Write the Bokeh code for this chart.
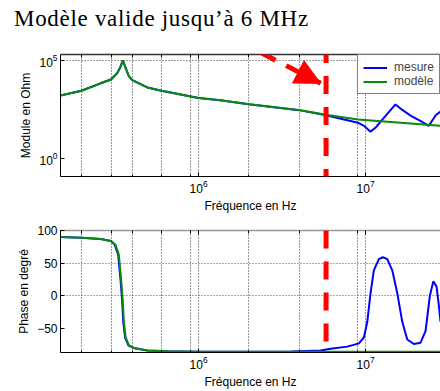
from bokeh.plotting import figure
from bokeh.models import (FixedTicker, Legend, LegendItem, Arrow, LogAxis,
                          NormalHead, Range1d, Div)
from bokeh.layouts import column
from bokeh.embed import file_html
from bokeh.resources import INLINE

# ---------------- data ----------------
# magnitude, model (Ohm)
f_mod_model = [1.49e5, 1.99e5, 2.59e5, 2.99e5, 3.26e5, 3.41e5, 3.52e5, 3.66e5, 3.83e5,
               4.01e5, 4.93e5, 6.0e5, 1.0e6, 1.35e6, 2.0e6, 4.0e6, 5.8e6, 9.0e6, 2.81e7]
z_model = [1590, 2790, 6670, 10500, 22300, 47000, 100000, 39200, 15200,
           9660, 4100, 2790, 1185, 903, 575, 292, 166, 94, 45]
# magnitude, measurement (Ohm)
f_mod_mes = [1.49e5, 1.99e5, 2.59e5, 2.99e5, 3.26e5, 3.41e5, 3.52e5, 3.66e5, 3.83e5,
             4.01e5, 4.93e5, 6.0e5, 1.0e6, 1.35e6, 2.0e6, 4.0e6, 5.8e6, 9.0e6, 9.77e6,
             1.07e7, 1.15e7, 1.26e7, 1.51e7, 1.66e7, 1.86e7, 2.14e7, 2.39e7, 2.63e7, 2.81e7]
z_mes = [1590, 2790, 6670, 10500, 22300, 47000, 100000, 39200, 15200,
         9660, 4100, 2790, 1185, 903, 575, 285, 158, 65, 45,
         22.8, 37, 94, 556, 292, 149, 79, 45, 155, 244]
# phase, model (degrees)
f_ph_model = [1.49e5, 1.99e5, 2.59e5, 2.99e5, 3.18e5, 3.33e5, 3.44e5, 3.51e5, 3.57e5,
              3.66e5, 3.83e5, 4.10e5, 4.93e5, 6.5e5, 1.0e6, 2.81e7]
ph_model = [90, 89, 87, 84, 78, 63, 24, -5, -40, -64, -76, -80, -84, -85, -86, -86]
# phase, measurement (degrees)
f_ph_mes = [1.49e5, 1.99e5, 2.59e5, 2.99e5, 3.15e5, 3.30e5, 3.41e5, 3.48e5, 3.54e5,
            3.63e5, 3.80e5, 4.08e5, 4.93e5, 6.5e5, 1.0e6, 3.6e6, 5.38e6, 6.17e6, 7.77e6,
            9.12e6, 9.77e6, 1.024e7, 1.071e7, 1.121e7, 1.201e7, 1.269e7, 1.349e7, 1.445e7,
            1.548e7, 1.659e7, 1.777e7, 1.946e7, 2.135e7, 2.288e7, 2.427e7, 2.544e7, 2.662e7,
            2.747e7, 2.812e7]
ph_mes = [90, 89, 87, 84, 78, 63, 24, -5, -40, -64, -76, -80, -84, -85, -86, -85.5, -84,
          -81.4, -78, -73, -64, -40, 4, 39, 56, 59, 56, 39, 4, -40, -67, -74, -72, -54,
          0, 22, 14, -15, -40]

f_limit = 5.8e6          # model valid up to ~6 MHz
arrow_from = (1.643e6, 1.197e6)   # annotation arrow (frequency, ohm)
arrow_to = (5.38e6, 6.67e3)
x_major = [1e6, 1e7]
x_minor = [2e5, 3e5, 4e5, 6e5, 9e5, 2e6, 4e6, 9e6]
z_ticks = [1, 1e5]
ph_ticks = [-50, 0, 50, 100]
legend_labels = ["mesure", "modèle"]
title_text = "Modèle valide jusqu’à 6 MHz"

BLUE = "#0000ff"
GREEN = "#0a8a0a"
RED = "#ff0000"
FONT = "Liberation Sans"

x_rng = (1.49e5, 2.81e7)


def style(p, yticks, top_color):
    p.xaxis.ticker = FixedTicker(ticks=x_major, minor_ticks=x_minor)
    p.yaxis.ticker = FixedTicker(ticks=yticks)
    for ax in p.xaxis + p.yaxis:
        ax.major_tick_in = 4
        ax.major_tick_out = 0
        ax.minor_tick_in = 2
        ax.minor_tick_out = 0
        ax.axis_line_color = "black"
        ax.major_tick_line_color = "black"
        ax.major_label_text_font = FONT
        ax.major_label_text_font_size = "12px"
        ax.major_label_text_color = "black"
        ax.axis_label_text_font = FONT
        ax.axis_label_text_font_size = "12px"
        ax.axis_label_text_font_style = "normal"
        ax.axis_label_text_color = "black"
        ax.major_label_standoff = 3
        ax.axis_label_standoff = 3
    p.xaxis.minor_tick_line_color = "black"
    p.yaxis.minor_tick_line_color = None
    p.xaxis.axis_label = "Fréquence en Hz"
    p.xgrid.grid_line_color = "#333333"
    p.xgrid.grid_line_dash = "1 2"
    p.xgrid.grid_line_width = 1
    p.xgrid.minor_grid_line_color = "#333333"
    p.xgrid.minor_grid_line_dash = "1 2"
    p.ygrid.grid_line_color = "#333333"
    p.ygrid.grid_line_dash = "1 2"
    p.outline_line_color = None
    p.background_fill_color = "white"
    p.border_fill_color = None
    top = LogAxis(ticker=FixedTicker(ticks=x_major, minor_ticks=x_minor),
                  major_tick_in=4, major_tick_out=0, minor_tick_in=3, minor_tick_out=0,
                  axis_line_color=top_color, axis_line_width=1.5,
                  major_tick_line_color="black", minor_tick_line_color="black",
                  major_label_text_font_size="1px", major_label_text_alpha=0,
                  major_label_standoff=0)
    p.add_layout(top, "above")


title = Div(text='<span style="position:relative;top:2px">' + title_text + '</span>',
            width=440, height=34, margin=0,
            styles={"font-family": "'Liberation Serif'", "font-size": "23px",
                    "line-height": "34px", "padding-left": "14px", "letter-spacing": "0.7px",
                    "color": "black", "white-space": "nowrap"})

# ---------------- top: magnitude ----------------
p1 = figure(width=440, height=181, x_axis_type="log", y_axis_type="log",
            x_range=Range1d(*x_rng), y_range=Range1d(0.117, 1.97e5),
            output_backend="svg", toolbar_location=None,
            min_border_left=60, min_border_right=0, min_border_top=20, min_border_bottom=34)
style(p1, z_ticks, "#333333")
p1.yaxis.axis_label = "Module en Ohm"
p1.ygrid.ticker = FixedTicker(ticks=[1e5])

r_mes = p1.line(f_mod_mes, z_mes, line_color=BLUE, line_width=2)
r_mod = p1.line(f_mod_model, z_model, line_color=GREEN, line_width=2)

legend = Legend(items=[LegendItem(label=legend_labels[0], renderers=[r_mes]),
                       LegendItem(label=legend_labels[1], renderers=[r_mod])],
                location="top_right", margin=0, padding=5, spacing=0,
                border_line_color="black", border_line_width=1,
                label_text_font=FONT, label_text_font_size="12px",
                label_height=13, glyph_height=13, glyph_width=24, label_standoff=7)
p1.add_layout(legend)

# vertical limit line (extends beyond the frame)
p1.add_layout(Arrow(x_start=f_limit, y_start=6.08e5, x_end=f_limit, y_end=1e-3, end=None,
                    line_color=RED, line_width=5, line_dash="18 13"))
# dashed arrow body
p1.add_layout(Arrow(x_start=arrow_from[0], y_start=arrow_from[1],
                    x_end=arrow_to[0], y_end=arrow_to[1], end=None,
                    line_color=RED, line_width=5, line_dash="17 12"))
# arrow head only
p1.add_layout(Arrow(x_start=arrow_from[0], y_start=arrow_from[1],
                    x_end=arrow_to[0], y_end=arrow_to[1], line_alpha=0,
                    end=NormalHead(size=25, fill_color=RED, line_color=RED, line_width=1)))

# ---------------- bottom: phase ----------------
p2 = figure(width=440, height=176, x_axis_type="log",
            x_range=p1.x_range, y_range=Range1d(-87, 100),
            output_backend="svg", toolbar_location=None,
            min_border_left=60, min_border_right=0, min_border_top=15, min_border_bottom=34)
style(p2, ph_ticks, "#999999")
p2.yaxis.axis_label = "Phase en degré"
p2.ygrid.ticker = FixedTicker(ticks=[0, 50, 100])
p2.ygrid.grid_line_color = "#555555"

p2.line(f_ph_mes, ph_mes, line_color=BLUE, line_width=2)
p2.line(f_ph_model, ph_model, line_color=GREEN, line_width=2)

p2.add_layout(Arrow(x_start=f_limit, y_start=100, x_end=f_limit, y_end=-160, end=None,
                    line_color=RED, line_width=5, line_dash="18 13"))

layout = column(title, p1, p2, spacing=0)
open("out.html", "w").write(file_html(layout, INLINE))
